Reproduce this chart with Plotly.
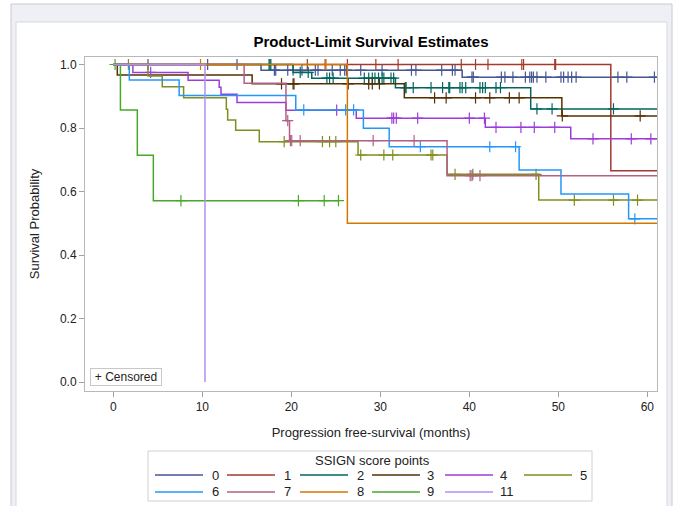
import plotly.graph_objects as go

# ---------------- data ----------------
groups = ["0", "1", "2", "3", "4", "5", "6", "7", "8", "9", "11"]
colors = ["#445694", "#A23A2E", "#01665E", "#543005", "#9D3CDB", "#7F8E1F",
          "#2597FA", "#B26084", "#D17800", "#47A82A", "#B38EF3"]

# group 0
g0_event_t = [16.6, 39.2]
g0_surv = [0.982, 0.960]
g0_cens = [3.9, 10.6, 13.9, 18.1, 18.25, 19.6, 20.2, 21.2, 22.7, 23.0, 24.6, 25.5,
           26.0, 26.2, 27.8, 30.2, 33.5, 34.0, 36.9, 38.1, 38.4, 40.3, 40.45, 43.6,
           44.0, 44.9, 46.3, 46.8, 47.0, 47.2, 47.6, 48.6, 50.3, 50.6, 51.1, 51.5,
           52.0, 56.7, 57.7, 60.8]
g0_end = 61.5
# group 1
g1_event_t = [55.9]
g1_surv = [0.665]
g1_cens = [21.8, 23.8, 26.3, 29.5, 32.0, 39.1, 40.7, 42.1, 45.9, 46.1, 49.6, 49.7]
g1_end = 61.5
# group 2
g2_event_t = [20.2, 22.3, 31.7, 46.9]
g2_surv = [0.975, 0.957, 0.927, 0.860]
g2_cens = [17.5, 17.6, 17.7, 21.0, 21.9, 24.0, 24.3, 24.7, 28.2, 28.7, 29.1, 29.4,
           29.8, 30.2, 30.4, 31.2, 31.5, 32.8, 32.9, 33.7, 35.7, 37.0, 37.7, 37.8,
           38.95, 39.2, 39.6, 41.2, 41.5, 41.8, 43.0, 43.5, 47.6, 49.3, 56.2]
g2_end = 61.5
# group 3
g3_event_t = [0.45, 15.6, 32.7, 50.4]
g3_surv = [0.967, 0.939, 0.895, 0.838]
g3_cens = [18.9, 20.2, 20.3, 26.4, 28.7, 29.1, 29.9, 36.1, 37.4, 40.7, 42.3, 44.5,
           45.6, 50.45, 59.2]
g3_end = 61.5
# group 4
g4_event_t = [2.2, 8.4, 11.9, 12.1, 13.9, 19.4, 27.3, 41.8, 51.4]
g4_surv = [0.975, 0.950, 0.928, 0.906, 0.880, 0.856, 0.831, 0.802, 0.766]
g4_cens = [4.2, 25.1, 31.3, 31.5, 31.8, 34.2, 40.0, 41.7, 43.0, 45.8, 47.3, 49.6,
           53.9, 58.2, 60.4]
g4_end = 61.5
# group 5
g5_event_t = [3.9, 5.5, 7.9, 12.7, 12.85, 13.75, 16.4, 27.5, 37.5, 47.8]
g5_surv = [0.964, 0.930, 0.895, 0.859, 0.825, 0.793, 0.757, 0.715, 0.654, 0.573]
g5_cens = [1.7, 19.2, 23.5, 24.3, 25.0, 27.8, 30.4, 31.4, 35.7, 35.9, 38.4, 40.4,
           47.5, 51.8, 56.2, 58.9]
g5_end = 61.5
# group 6
g6_event_t = [1.8, 7.4, 20.5, 28.1, 31.0, 45.6, 50.3, 57.9]
g6_surv = [0.951, 0.902, 0.857, 0.799, 0.741, 0.668, 0.592, 0.514]
g6_cens = [21.4, 26.1, 27.0, 34.5, 42.3, 45.2, 58.6]
g6_end = 61.5
# group 7
g7_event_t = [14.7, 19.4, 19.8, 37.5]
g7_surv = [0.941, 0.823, 0.760, 0.650]
g7_cens = [19.6, 19.9, 20.05, 21.0, 29.2, 33.8, 40.1, 40.3, 41.2]
g7_end = 61.5
# group 8
g8_event_t = [26.3]
g8_surv = [0.500]
g8_cens = [9.8, 23.9]
g8_end = 61.5
# group 9
g9_event_t = [0.8, 2.7, 4.5]
g9_surv = [0.857, 0.714, 0.571]
g9_cens = [0.2, 7.6, 20.8, 23.7, 25.3]
g9_end = 25.3
# group 11
g11_event_t = [10.3]
g11_surv = [0.0]
g11_cens = []
g11_end = 10.3

event_times = [g0_event_t, g1_event_t, g2_event_t, g3_event_t, g4_event_t, g5_event_t,
               g6_event_t, g7_event_t, g8_event_t, g9_event_t, g11_event_t]
survs = [g0_surv, g1_surv, g2_surv, g3_surv, g4_surv, g5_surv,
         g6_surv, g7_surv, g8_surv, g9_surv, g11_surv]
censs = [g0_cens, g1_cens, g2_cens, g3_cens, g4_cens, g5_cens,
         g6_cens, g7_cens, g8_cens, g9_cens, g11_cens]
ends = [g0_end, g1_end, g2_end, g3_end, g4_end, g5_end,
        g6_end, g7_end, g8_end, g9_end, g11_end]

x_ticks = [0, 10, 20, 30, 40, 50, 60]
y_ticks = [0.0, 0.2, 0.4, 0.6, 0.8, 1.0]

# ---------------- layout geometry (pixels) ----------------
W, H = 675, 506
PL, PR, PT, PB = 85, 657, 57, 391
FONT = "Liberation Sans, Arial, sans-serif"


def pxx(px):
    return (px - PL) / (PR - PL)


def pxy(py):
    return (PB - py) / (PB - PT)


def surv_at(t, ev, sv):
    s = 1.0
    for e, v in zip(ev, sv):
        if e <= t:
            s = v
    return s


fig = go.Figure()
for name, col, ev, sv, cs, end in zip(groups, colors, event_times, survs, censs, ends):
    xs = [0.0] + list(ev) + [end]
    ys = [1.0] + list(sv) + [sv[-1]]
    fig.add_trace(go.Scatter(x=xs, y=ys, mode="lines", line=dict(color=col, width=1.5, shape="hv"),
                             name=name, showlegend=False, hoverinfo="skip"))
    if cs:
        fig.add_trace(go.Scatter(x=cs, y=[surv_at(t, ev, sv) for t in cs], mode="markers",
                                 marker=dict(symbol="cross-thin", size=8, color=col,
                                             line=dict(color=col, width=1.2)),
                                 name=name + " censored", showlegend=False, hoverinfo="skip"))

shapes = []
anns = []
# page frame
shapes.append(dict(type="rect", xref="paper", yref="paper", layer="below",
                   x0=pxx(11), x1=pxx(672), y0=pxy(520), y1=pxy(4),
                   fillcolor="#EEF0F5", line=dict(color="#C8CAD0", width=1)))
shapes.append(dict(type="rect", xref="paper", yref="paper", layer="below",
                   x0=pxx(16), x1=pxx(667), y0=pxy(520), y1=pxy(22),
                   fillcolor="white", line=dict(color="#D6D8DE", width=1)))

# censored box
anns.append(dict(xref="paper", yref="paper", x=pxx(90), y=pxy(386), xanchor="left", yanchor="bottom",
                 text="+ Censored", showarrow=False, font=dict(family=FONT, size=12, color="#222"),
                 width=68, height=14, align="center",
                 bgcolor="white", bordercolor="#C8C8C8", borderwidth=1, borderpad=1))

# manual legend
shapes.append(dict(type="rect", xref="paper", yref="paper",
                   x0=pxx(148), x1=pxx(592), y0=pxy(501), y1=pxy(451),
                   fillcolor="white", line=dict(color="#D0D0D0", width=1)))
anns.append(dict(xref="paper", yref="paper", x=pxx(372), y=pxy(460), xanchor="center", yanchor="middle",
                 text="SSIGN score points", showarrow=False, font=dict(family=FONT, size=13, color="#222")))
line_x0 = [155, 227, 300, 372, 445, 524]
label_x = [210, 282, 355, 425, 498, 578]
row_y = [475, 492]
for i, (name, col) in enumerate(zip(groups, colors)):
    r, c = divmod(i, 6)
    ly = row_y[r]
    shapes.append(dict(type="line", xref="paper", yref="paper",
                       x0=pxx(line_x0[c]), x1=pxx(line_x0[c] + 48), y0=pxy(ly), y1=pxy(ly),
                       line=dict(color=col, width=1.5)))
    anns.append(dict(xref="paper", yref="paper", x=pxx(label_x[c]), y=pxy(ly), xanchor="left",
                     yanchor="middle", text=name, showarrow=False,
                     font=dict(family=FONT, size=13, color="#222")))

fig.update_layout(
    width=W, height=H, autosize=False,
    margin=dict(l=PL, r=W - PR, t=PT, b=H - PB, pad=0),
    paper_bgcolor="white", plot_bgcolor="white",
    title=dict(text="<b>Product-Limit Survival Estimates</b>", x=0.5, xref="paper", xanchor="center",
               y=1 - 42 / H, yanchor="middle", font=dict(family=FONT, size=15, color="black")),
    font=dict(family=FONT, size=12, color="#222"),
    shapes=shapes, annotations=anns, showlegend=False,
    xaxis=dict(range=[-3.18, 61.09], tickvals=x_ticks, ticktext=[str(v) for v in x_ticks],
               showgrid=False, zeroline=False, showline=True, mirror=True, linecolor="#B8B8B8",
               linewidth=1, ticks="outside", ticklen=5, tickcolor="#A0A0A0",
               tickfont=dict(family=FONT, size=12, color="#222"),
               title=dict(text="Progression free-survival (months)", standoff=14,
                          font=dict(family=FONT, size=13, color="#222"))),
    yaxis=dict(range=[-0.0283, 1.0236], tickvals=y_ticks, ticktext=["%.1f" % v for v in y_ticks],
               showgrid=False, zeroline=False, showline=True, mirror=True, linecolor="#B8B8B8",
               linewidth=1, ticks="outside", ticklen=5, tickcolor="#A0A0A0",
               tickfont=dict(family=FONT, size=12, color="#222"),
               title=dict(text="Survival Probability", standoff=17,
                          font=dict(family=FONT, size=13, color="#222"))),
)

fig.write_html("out.html")
